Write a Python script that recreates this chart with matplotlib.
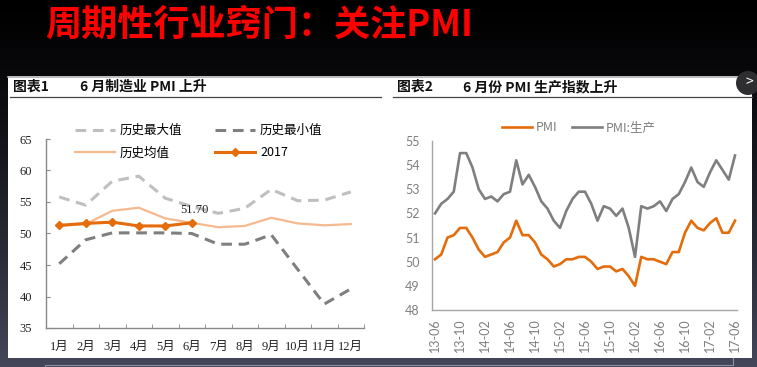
# %%
import numpy as np
import matplotlib
matplotlib.use("Agg")
import matplotlib.pyplot as plt
from matplotlib.patches import Rectangle, Circle

plt.rcParams['font.family'] = ['Noto Sans CJK SC', 'DejaVu Sans']

# %% data - left chart (monthly PMI seasonal ranges)
months = ['1月', '2月', '3月', '4月', '5月', '6月', '7月', '8月', '9月', '10月', '11月', '12月']
hist_max = [55.8, 54.5, 58.3, 59.1, 55.6, 54.3, 53.2, 54.0, 57.0, 55.2, 55.3, 56.6]
hist_min = [45.2, 49.0, 50.1, 50.1, 50.1, 50.0, 48.3, 48.3, 49.8, 44.3, 38.8, 41.2]
hist_mean = [51.2, 51.5, 53.6, 54.1, 52.4, 51.7, 51.0, 51.2, 52.5, 51.6, 51.3, 51.5]
pmi_2017 = [51.3, 51.6, 51.8, 51.2, 51.2, 51.7]

# %% data - right chart (2013-06 .. 2017-06)
pmi = [50.1, 50.3, 51.0, 51.1, 51.4, 51.4, 51.0,
       50.5, 50.2, 50.3, 50.4, 50.8, 51.0, 51.7, 51.1, 51.1, 50.8, 50.3, 50.1,
       49.8, 49.9, 50.1, 50.1, 50.2, 50.2, 50.0, 49.7, 49.8, 49.8, 49.6, 49.7,
       49.4, 49.0, 50.2, 50.1, 50.1, 50.0, 49.9, 50.4, 50.4, 51.2, 51.7, 51.4,
       51.3, 51.6, 51.8, 51.2, 51.2, 51.7]
pmi_prod = [52.0, 52.4, 52.6, 52.9, 54.5, 54.5, 53.9,
            53.0, 52.6, 52.7, 52.5, 52.8, 52.9, 54.2, 53.2, 53.6, 53.1, 52.5, 52.2,
            51.7, 51.4, 52.1, 52.6, 52.9, 52.9, 52.4, 51.7, 52.3, 52.2, 51.9, 52.2,
            51.4, 50.2, 52.3, 52.2, 52.3, 52.5, 52.1, 52.6, 52.8, 53.3, 53.9, 53.3,
            53.1, 53.7, 54.2, 53.8, 53.4, 54.4]
date_labels = ['13-06', '13-10', '14-02', '14-06', '14-10', '15-02', '15-06',
               '15-10', '16-02', '16-06', '16-10', '17-02', '17-06']

W, H = 757, 367


def px_rect(x0, y0, x1, y1):
    # pixel box (top-left origin) -> figure fraction
    return [x0 / W, 1 - y1 / H, (x1 - x0) / W, (y1 - y0) / H]


fig = plt.figure(figsize=(W / 100, H / 100), dpi=100)

# %% slide background
bg = fig.add_axes([0, 0, 1, 1])
bg.set_xlim(0, W)
bg.set_ylim(H, 0)
bg.axis('off')
grad = np.linspace(0, 1, 256)[:, None]
top = np.array([0.0, 0.0, 0.0])
bot = np.array([0.27, 0.28, 0.35])
img = top + (bot - top) * grad[..., None] ** 1.3
bg.imshow(img, extent=[0, W, H, 0], aspect='auto', zorder=0)

bg.text(45, 25, '周期性行业窍门：关注PMI', color='#ff0000', fontsize=26,
        fontweight='bold', va='center', ha='left')

bg.add_patch(Rectangle((8, 76), 744, 282, facecolor='white', edgecolor='none', zorder=1))
bg.plot([8, 752], [76.5, 76.5], color='#b0b0b0', lw=1.2, zorder=2)
# faint slide frame below the panel
bg.plot([45, 45, 733, 733], [367, 365, 365, 358], color='#8c8fa2', lw=0.8, zorder=1)

# panel headers
bg.text(13, 87, '图表1', fontsize=10, fontweight='bold', va='center', color='#111111', zorder=3)
bg.text(80, 87, '6 月制造业 PMI 上升', fontsize=10, fontweight='bold', va='center',
        color='#111111', zorder=3)
bg.plot([10, 381], [97, 97], color='#444444', lw=0.9, zorder=3)
bg.text(397, 87, '图表2', fontsize=10, fontweight='bold', va='center', color='#111111', zorder=3)
bg.text(463, 87, '6 月份 PMI 生产指数上升', fontsize=10, fontweight='bold', va='center',
        color='#111111', zorder=3)
bg.plot([393, 752], [97, 97], color='#444444', lw=0.9, zorder=3)
bg.add_patch(Circle((748, 83), 12, facecolor='#2e2e30', edgecolor='none', zorder=4))
bg.text(749, 82, '>', color='white', fontsize=10, ha='center', va='center', zorder=5)

# %% left chart
serif_cjk = ['Liberation Serif', 'Noto Sans CJK SC']
ax1 = fig.add_axes(px_rect(46, 139, 364, 328))
ax1.set_facecolor('none')
x = np.arange(len(months))
ax1.plot(x, hist_max, color='#bfbfbf', lw=2.2, dashes=(3.5, 2.2), label='历史最大值')
ax1.plot(x, hist_mean, color='#f6b98f', lw=1.6, label='历史均值')
ax1.plot(x, hist_min, color='#7f7f7f', lw=2.2, dashes=(3.5, 2.2), label='历史最小值')
ax1.plot(x[:len(pmi_2017)], pmi_2017, color='#e46c0a', lw=2.2, marker='D', ms=4.5,
         label='2017')
ax1.annotate('51.70', (5, pmi_2017[5]), xytext=(3, 13), textcoords='offset pixels',
             ha='center', va='center', fontsize=9, family=serif_cjk, color='#222222')
ax1.set_xlim(-0.5, 11.5)
ax1.set_ylim(35, 65)
ax1.set_yticks(range(35, 66, 5))
ax1.set_xticks(x)
ax1.set_xticklabels(months, family=serif_cjk)
ax1.set_xticks(np.arange(-0.5, 12, 1), minor=True)
ax1.tick_params(axis='x', which='major', length=0, pad=9, labelsize=9, colors='#222222')
ax1.tick_params(axis='x', which='minor', direction='in', length=3, color='#888888')
ax1.tick_params(axis='y', direction='in', length=3, color='#888888', labelsize=9,
                labelcolor='#222222', pad=10)
for lbl in ax1.get_yticklabels():
    lbl.set_family(serif_cjk)
for s in ['top', 'right']:
    ax1.spines[s].set_visible(False)
for s in ['left', 'bottom']:
    ax1.spines[s].set_color('#888888')
    ax1.spines[s].set_linewidth(1)
ax1.legend(loc='upper left', bbox_to_anchor=(75, 124), bbox_transform=bg.transData,
           ncol=2, frameon=False, fontsize=9, handlelength=3.2, handletextpad=0.4,
           columnspacing=2.6, labelspacing=0.75, borderpad=0, borderaxespad=0)

# %% right chart
ax2 = fig.add_axes(px_rect(432, 141, 737, 310))
ax2.set_facecolor('none')
t = np.arange(len(pmi))
ax2.plot(t, pmi, color='#e46c0a', lw=1.9, solid_joinstyle='round', label='PMI')
ax2.plot(t, pmi_prod, color='#7f7f7f', lw=1.9, solid_joinstyle='round', label='PMI:生产')
ax2.set_xlim(-0.48, 48.32)
ax2.set_ylim(48, 55)
ax2.set_yticks(range(48, 56))
ax2.set_xticks(np.arange(0, len(pmi), 4))
ax2.set_xticklabels(date_labels, rotation=90, family=['Lato', 'Noto Sans CJK SC'])
for lbl in ax2.get_yticklabels():
    lbl.set_family(['Lato', 'Noto Sans CJK SC'])
ax2.tick_params(length=0, labelsize=9, colors='#7f7f7f')
ax2.tick_params(axis='y', pad=9)
ax2.tick_params(axis='x', pad=6)
for s in ['top', 'right']:
    ax2.spines[s].set_visible(False)
for s in ['left', 'bottom']:
    ax2.spines[s].set_color('#a6a6a6')
    ax2.spines[s].set_linewidth(1)
leg2 = ax2.legend(loc='upper left', bbox_to_anchor=(502, 121), bbox_transform=bg.transData,
                  ncol=2, frameon=False, fontsize=9, handlelength=2.4, handletextpad=0.3,
                  columnspacing=1.2, borderpad=0, borderaxespad=0)
for txt in leg2.get_texts():
    txt.set_color('#7f7f7f')

fig.savefig('out.png', dpi=100)
